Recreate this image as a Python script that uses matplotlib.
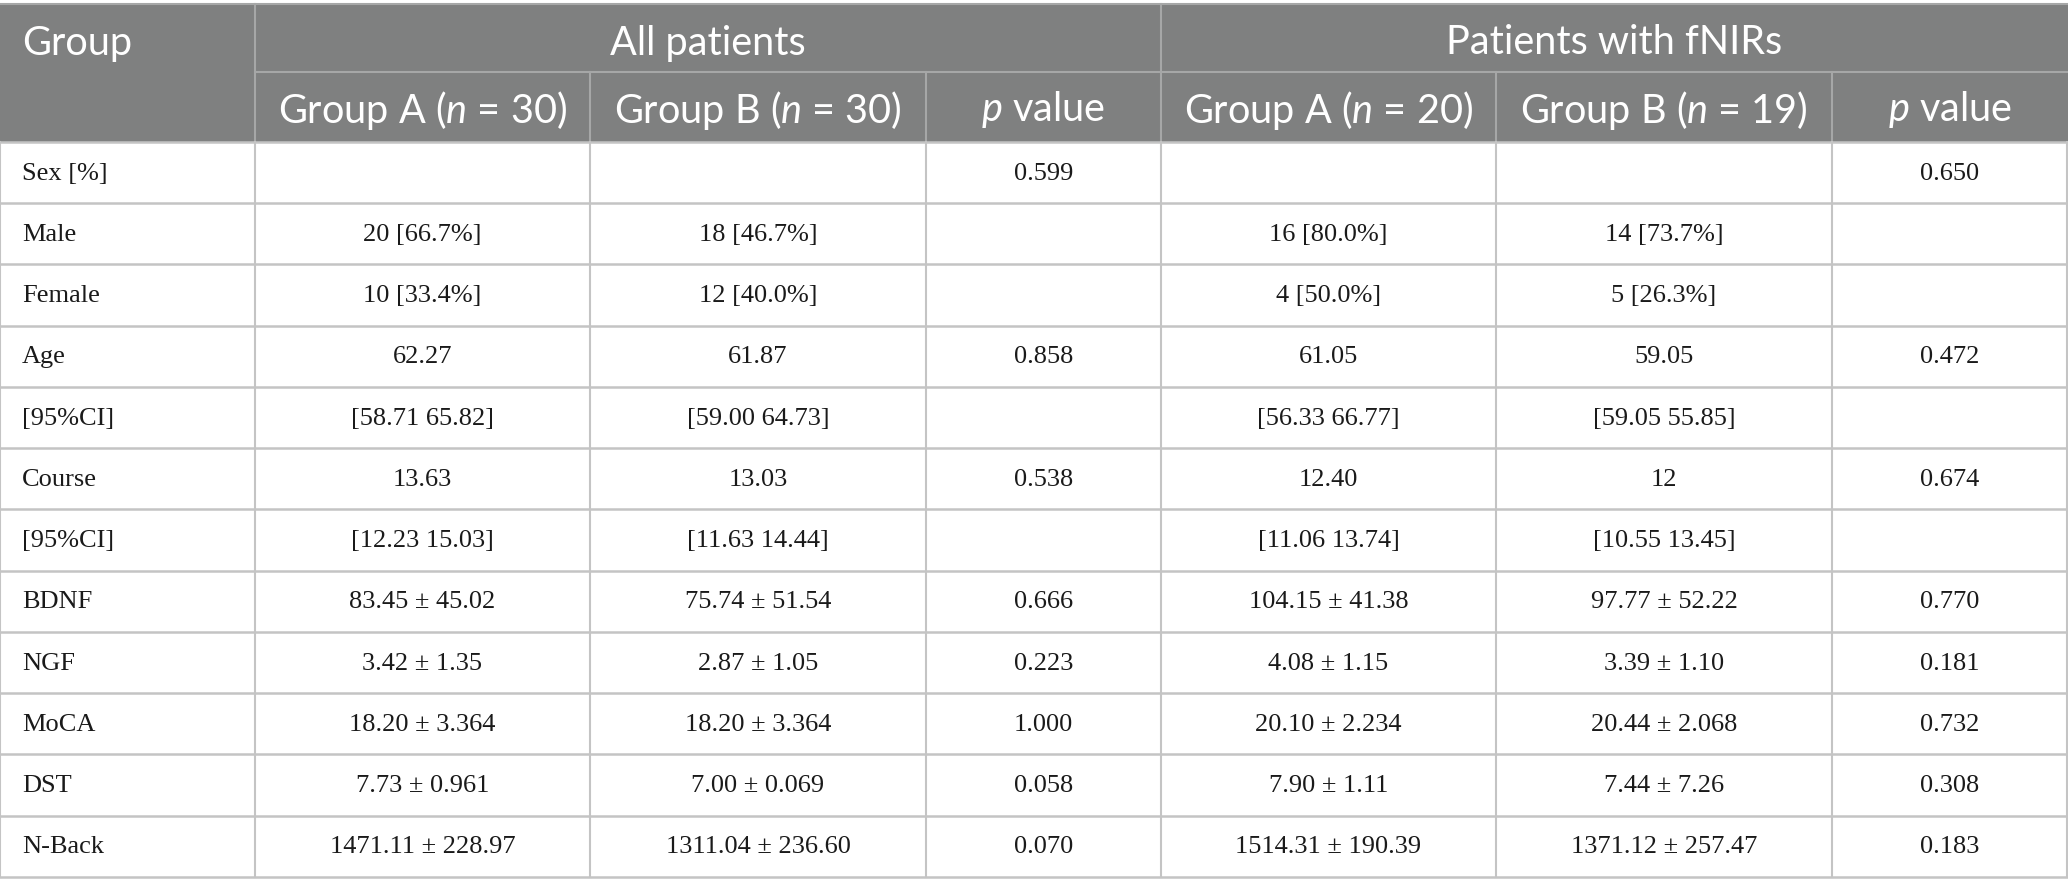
import matplotlib.pyplot as plt
from matplotlib.patches import Rectangle

plt.rcParams['mathtext.fontset'] = 'custom'
plt.rcParams['mathtext.rm'] = 'Lato'
plt.rcParams['mathtext.it'] = 'Lato:italic'

# table contents
groups = ['All patients', 'Patients with fNIRs']
sub_headers = ['Group A ($n$ = 30)', 'Group B ($n$ = 30)', '$p$ value',
               'Group A ($n$ = 20)', 'Group B ($n$ = 19)', '$p$ value']
row_labels = ['Sex [%]', 'Male', 'Female', 'Age', '[95%CI]', 'Course', '[95%CI]',
              'BDNF', 'NGF', 'MoCA', 'DST', 'N-Back']
all_a = ['', '20 [66.7%]', '10 [33.4%]', '62.27', '[58.71 65.82]', '13.63',
         '[12.23 15.03]', '83.45 ± 45.02', '3.42 ± 1.35', '18.20 ± 3.364',
         '7.73 ± 0.961', '1471.11 ± 228.97']
all_b = ['', '18 [46.7%]', '12 [40.0%]', '61.87', '[59.00 64.73]', '13.03',
         '[11.63 14.44]', '75.74 ± 51.54', '2.87 ± 1.05', '18.20 ± 3.364',
         '7.00 ± 0.069', '1311.04 ± 236.60']
all_p = ['0.599', '', '', '0.858', '', '0.538', '', '0.666', '0.223', '1.000',
         '0.058', '0.070']
fnirs_a = ['', '16 [80.0%]', '4 [50.0%]', '61.05', '[56.33 66.77]', '12.40',
           '[11.06 13.74]', '104.15 ± 41.38', '4.08 ± 1.15', '20.10 ± 2.234',
           '7.90 ± 1.11', '1514.31 ± 190.39']
fnirs_b = ['', '14 [73.7%]', '5 [26.3%]', '59.05', '[59.05 55.85]', '12',
           '[10.55 13.45]', '97.77 ± 52.22', '3.39 ± 1.10', '20.44 ± 2.068',
           '7.44 ± 7.26', '1371.12 ± 257.47']
fnirs_p = ['0.650', '', '', '0.472', '', '0.674', '', '0.770', '0.181', '0.732',
           '0.308', '0.183']
columns = [all_a, all_b, all_p, fnirs_a, fnirs_b, fnirs_p]

# layout in pixels
W, H = 2068, 896
col_w = [255, 335, 336, 235, 335, 336, 236]
edges = [0]
for w in col_w:
    edges.append(edges[-1] + w)
top, mid, hdr_bot, bot = 4, 72, 142, 877
row_h = (bot - hdr_bot) / len(row_labels)

head_bg = '#7f8080'
head_line = '#a6a7a7'
body_line = '#c4c4c4'

fig = plt.figure(figsize=(W / 100, H / 100), dpi=100)
ax = fig.add_axes([0, 0, 1, 1])
ax.set_xlim(0, W)
ax.set_ylim(H, 0)
ax.axis('off')

# header block
ax.add_patch(Rectangle((0, top), W, hdr_bot - top, color=head_bg, lw=0))
ax.plot([0, W], [top, top], color=head_line, lw=1.5)
ax.plot([edges[1], W], [mid, mid], color=head_line, lw=1.5)
for x in [edges[1], edges[4]]:
    ax.plot([x, x], [top, hdr_bot], color=head_line, lw=1.5)
for x in [edges[2], edges[3], edges[5], edges[6]]:
    ax.plot([x, x], [mid, hdr_bot], color=head_line, lw=1.5)

hfont = dict(family='Lato', fontsize=28.5, color='white')
y1, y2 = 43, 110
ax.text(22, y1, 'Group', ha='left', va='center', **hfont)
ax.text((edges[1] + edges[4]) / 2, y1, groups[0],
        ha='center', va='center', **hfont)
ax.text((edges[4] + edges[7]) / 2, y1, groups[1],
        ha='center', va='center', **hfont)
for i, s in enumerate(sub_headers):
    ax.text((edges[i + 1] + edges[i + 2]) / 2, y2, s,
            ha='center', va='center', **hfont)

# body grid
for r in range(len(row_labels) + 1):
    y = hdr_bot + r * row_h
    ax.plot([0, W - 1], [y, y], color=body_line, lw=1.8)
for x in edges[:-1] + [W - 1.5]:
    ax.plot([x, x], [hdr_bot, bot], color=body_line, lw=1.5)

bfont = dict(family='Liberation Serif', fontsize=19, color='#1a1a1a')
for r, lab in enumerate(row_labels):
    yc = hdr_bot + (r + 0.5) * row_h + 1
    ax.text(22, yc, lab, ha='left', va='center', **bfont)
    for c, col in enumerate(columns):
        if col[r]:
            ax.text((edges[c + 1] + edges[c + 2]) / 2, yc, col[r],
                    ha='center', va='center', **bfont)

fig.savefig('out.png', dpi=100, facecolor='white')
